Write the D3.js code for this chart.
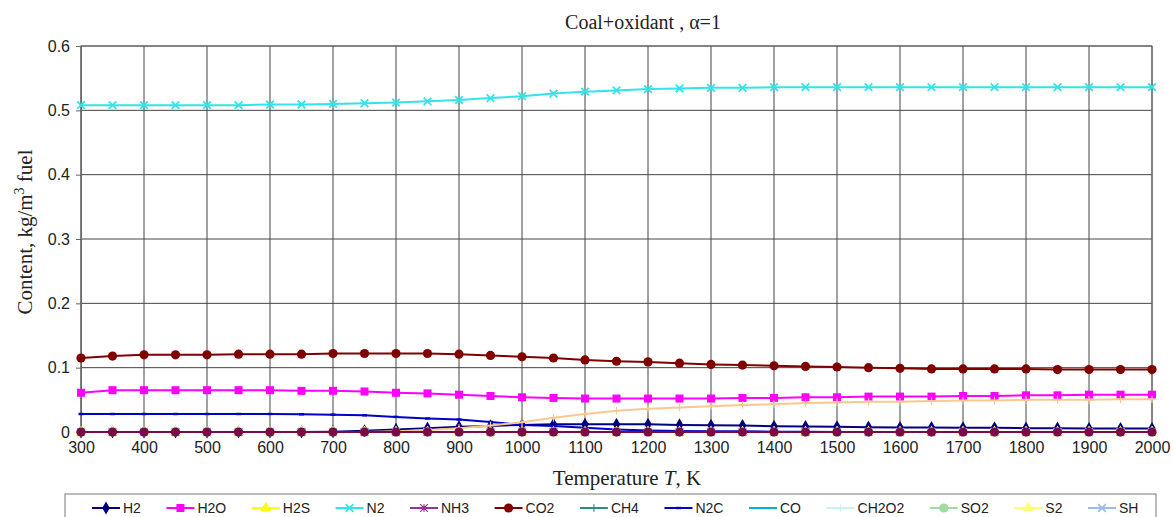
<!DOCTYPE html>
<html>
<head>
<meta charset="utf-8">
<script src="https://cdn.jsdelivr.net/npm/d3@7"></script>
<style>
  body { margin: 0; background: #fff; }
  svg { display: block; }
</style>
</head>
<body>
<div id="chart"></div>
<script>
// Temperature grid, K
const temps = [300, 350, 400, 450, 500, 550, 600, 650, 700, 750, 800, 850, 900, 950, 1000, 1050, 1100, 1150,
    1200, 1250, 1300, 1350, 1400, 1450, 1500, 1550, 1600, 1650, 1700, 1750, 1800, 1850, 1900, 1950, 2000];

// Content, kg/m3 fuel
const h2 = [0, 0, 0, 0, 0, 0, 0, 0, 0.0005, 0.002, 0.004, 0.006, 0.008, 0.0095, 0.011, 0.012,
    0.012, 0.012, 0.012, 0.011, 0.0105, 0.010, 0.009, 0.0085, 0.008, 0.0075, 0.007, 0.007, 0.0065, 0.0065, 0.006, 0.006, 0.0055, 0.0055, 0.0055];
const h2o = [0.061, 0.065, 0.065, 0.065, 0.065, 0.065, 0.065, 0.064, 0.064, 0.063, 0.061, 0.060, 0.058, 0.056, 0.054, 0.053,
    0.052, 0.052, 0.052, 0.052, 0.052, 0.053, 0.053, 0.054, 0.054, 0.055, 0.055, 0.055, 0.056, 0.056, 0.057, 0.057, 0.058, 0.058, 0.058];
const n2 = [0.508, 0.508, 0.508, 0.508, 0.508, 0.508, 0.509, 0.509, 0.510, 0.511, 0.512, 0.514, 0.516, 0.519, 0.522, 0.526,
    0.529, 0.531, 0.533, 0.534, 0.535, 0.535, 0.536, 0.536, 0.536, 0.536, 0.536, 0.536, 0.536, 0.536, 0.536, 0.536, 0.536, 0.536, 0.536];
const co2 = [0.115, 0.118, 0.120, 0.120, 0.120, 0.121, 0.121, 0.121, 0.122, 0.122, 0.122, 0.122, 0.121, 0.119, 0.117, 0.115,
    0.112, 0.110, 0.109, 0.107, 0.105, 0.104, 0.103, 0.102, 0.101, 0.100, 0.099, 0.098, 0.098, 0.098, 0.098, 0.097, 0.097, 0.097, 0.097];
const n2c = [0.028, 0.028, 0.028, 0.028, 0.028, 0.028, 0.028, 0.0275, 0.027, 0.026, 0.0235, 0.021, 0.0195, 0.0155, 0.011, 0.0095,
    0.0065, 0.004, 0.0025, 0.0015, 0.001, 0.001, 0.0005, 0.0005, 0, 0, 0, 0, 0, 0, 0, 0, 0, 0, 0];
const cos = [0, 0, 0, 0, 0, 0, 0, 0, 0, 0, 0.001, 0.003, 0.006, 0.010, 0.015, 0.022,
    0.028, 0.033, 0.036, 0.038, 0.040, 0.042, 0.043, 0.045, 0.046, 0.047, 0.047, 0.048, 0.049, 0.049, 0.050, 0.050, 0.050, 0.051, 0.051];
const zeros = [0, 0, 0, 0, 0, 0, 0, 0, 0, 0, 0, 0, 0, 0, 0, 0, 0, 0, 0, 0, 0, 0, 0, 0, 0, 0, 0, 0, 0, 0, 0, 0, 0, 0, 0];

const xTicks = [300, 400, 500, 600, 700, 800, 900, 1000, 1100, 1200, 1300, 1400, 1500, 1600, 1700, 1800, 1900, 2000];
const yTicks = [0, 0.1, 0.2, 0.3, 0.4, 0.5, 0.6];

// Series in drawing order; the last two belong to the legend row cut off below the picture
const series = [
    { name: "H2", values: h2, color: "#000080", marker: "diamond" },
    { name: "H2O", values: h2o, color: "#ff00ff", marker: "square" },
    { name: "H2S", values: zeros, color: "#ffff00", marker: "triangle" },
    { name: "N2", values: n2, color: "#33e3e8", marker: "x" },
    { name: "NH3", values: zeros, color: "#993399", marker: "star" },
    { name: "CO2", values: co2, color: "#800000", marker: "circle" },
    { name: "CH4", values: zeros, color: "#2e8b8b", marker: "plus" },
    { name: "N2C", values: n2c, color: "#0000c8", marker: "dash" },
    { name: "CO", values: zeros, color: "#00b0e0", marker: "none" },
    { name: "CH2O2", values: zeros, color: "#c8f2f4", marker: "plus" },
    { name: "SO2", values: zeros, color: "#a0dca0", marker: "circle" },
    { name: "S2", values: zeros, color: "#ffff70", marker: "triangle" },
    { name: "SH", values: zeros, color: "#9bbbe8", marker: "x" },
    { name: "COS", values: cos, color: "#f8c890", marker: "plus", hidden: true },
    { name: "C", values: zeros, color: "#7a0a48", marker: "circle", hidden: true }
];

const width = 1173, height = 517;
const margin = { left: 81, right: 21, top: 46, bottom: 85 };

const svg = d3.select("#chart").append("svg")
    .attr("width", width)
    .attr("height", height);

const x = d3.scaleLinear().domain([300, 2000]).range([margin.left, width - margin.right]);
const y = d3.scaleLinear().domain([0, 0.6]).range([height - margin.bottom, margin.top]);

const serif = "'Liberation Serif', 'Times New Roman', serif";
const sans = "'Liberation Sans', Arial, sans-serif";

// Grid
svg.append("g")
    .selectAll("line.vgrid")
    .data(xTicks)
    .enter().append("line")
    .attr("x1", d => x(d)).attr("x2", d => x(d))
    .attr("y1", y(0)).attr("y2", y(0.6))
    .attr("stroke", "#444").attr("stroke-width", 1);

svg.append("g")
    .selectAll("line.hgrid")
    .data(yTicks)
    .enter().append("line")
    .attr("x1", x(300)).attr("x2", x(2000))
    .attr("y1", d => y(d)).attr("y2", d => y(d))
    .attr("stroke", "#444").attr("stroke-width", 1);

// Plot border
svg.append("rect")
    .attr("x", x(300)).attr("y", y(0.6))
    .attr("width", x(2000) - x(300)).attr("height", y(0) - y(0.6))
    .attr("fill", "none").attr("stroke", "#666");

// Axes
const yAxis = svg.append("g")
    .attr("transform", `translate(${x(300)},0)`)
    .call(d3.axisLeft(y).tickValues(yTicks).tickFormat(d => d === 0 ? "0" : d3.format(".1f")(d)).tickSize(5).tickPadding(6));
const xAxis = svg.append("g")
    .attr("transform", `translate(0,${y(0)})`)
    .call(d3.axisBottom(x).tickValues(xTicks).tickFormat(d3.format("d")).tickSize(0).tickPadding(10));

[xAxis, yAxis].forEach(a => {
    a.select(".domain").attr("stroke", "#666");
    a.selectAll(".tick line").attr("stroke", "#666");
    a.selectAll("text").attr("font-family", sans).attr("font-size", 16).attr("fill", "#222");
});

// Markers
function drawMarker(g, type, color, px, py) {
    const s = 3.8;
    if (type === "diamond") {
        g.append("path").attr("d", d3.symbol(d3.symbolDiamond, 50)()).attr("transform", `translate(${px},${py})`).attr("fill", color);
    } else if (type === "square") {
        g.append("rect").attr("x", px - 4).attr("y", py - 4).attr("width", 8).attr("height", 8).attr("fill", color);
    } else if (type === "triangle") {
        g.append("path").attr("d", d3.symbol(d3.symbolTriangle, 50)()).attr("transform", `translate(${px},${py})`).attr("fill", color);
    } else if (type === "circle") {
        g.append("circle").attr("cx", px).attr("cy", py).attr("r", 4.6).attr("fill", color);
    } else if (type === "x") {
        g.append("path").attr("d", `M${px - s},${py - s}L${px + s},${py + s}M${px - s},${py + s}L${px + s},${py - s}`)
            .attr("stroke", color).attr("stroke-width", 1.8);
    } else if (type === "plus") {
        g.append("path").attr("d", `M${px - s},${py}L${px + s},${py}M${px},${py - s}L${px},${py + s}`)
            .attr("stroke", color).attr("stroke-width", 1.2);
    } else if (type === "star") {
        g.append("path").attr("d", `M${px - s},${py - s}L${px + s},${py + s}M${px - s},${py + s}L${px + s},${py - s}M${px},${py - s}L${px},${py + s}`)
            .attr("stroke", color).attr("stroke-width", 1.2);
    } else if (type === "dash") {
        g.append("rect").attr("x", px - 2.5).attr("y", py - 1.2).attr("width", 5).attr("height", 2.4).attr("fill", color);
    }
}

const line = d3.line()
    .x((d, i) => x(temps[i]))
    .y(d => y(d));

series.forEach(s => {
    const g = svg.append("g").attr("class", "series");
    g.append("path")
        .datum(s.values)
        .attr("d", line)
        .attr("fill", "none")
        .attr("stroke", s.color)
        .attr("stroke-width", 2);
    s.values.forEach((v, i) => drawMarker(g, s.marker, s.color, x(temps[i]), y(v)));
});

// Title and axis labels
svg.append("text")
    .attr("x", 643).attr("y", 29)
    .attr("text-anchor", "middle")
    .attr("font-family", serif).attr("font-size", 20).attr("fill", "#222")
    .text("Coal+oxidant , α=1");

const xl = svg.append("text")
    .attr("x", 627).attr("y", 485)
    .attr("text-anchor", "middle")
    .attr("font-family", serif).attr("font-size", 21).attr("fill", "#222");
xl.append("tspan").text("Temperature ");
xl.append("tspan").attr("font-style", "italic").text("T");
xl.append("tspan").text(", K");

const yl = svg.append("text")
    .attr("transform", "translate(32,232) rotate(-90)")
    .attr("text-anchor", "middle")
    .attr("font-family", serif).attr("font-size", 21).attr("fill", "#222");
yl.append("tspan").text("Content, kg/m");
yl.append("tspan").attr("font-size", 14).attr("dy", -8).text("3");
yl.append("tspan").attr("dy", 8).text(" fuel");

// Legend (only its first row is inside the picture)
const legend = svg.append("g");
legend.append("rect")
    .attr("x", 65).attr("y", 494)
    .attr("width", 1091).attr("height", 60)
    .attr("fill", "#fff").attr("stroke", "#777");

const row1 = series.filter(s => !s.hidden);
const lineLen = 28, textGap = 3, firstX = 92, lastX = 1088;

function legendItem(s, lx, ly) {
    const g = legend.append("g");
    g.append("line").attr("x1", lx).attr("x2", lx + lineLen).attr("y1", ly).attr("y2", ly)
        .attr("stroke", s.color).attr("stroke-width", 2);
    drawMarker(g, s.marker, s.color, lx + lineLen / 2, ly);
    return g.append("text").attr("x", lx + lineLen + textGap).attr("y", ly + 5)
        .attr("font-family", sans).attr("font-size", 14).attr("fill", "#222")
        .text(s.name);
}

// measure text widths to spread the row across the box
const probe = svg.append("g");
const widths = row1.map(s => {
    const t = probe.append("text").attr("font-family", sans).attr("font-size", 14).text(s.name);
    return t.node().getComputedTextLength();
});
probe.remove();
const used = d3.sum(widths.slice(0, -1)) + (row1.length - 1) * (lineLen + textGap);
const gap = (lastX - firstX - used) / (row1.length - 1);

let lx = firstX;
row1.forEach((s, i) => {
    legendItem(s, lx, 508);
    lx += lineLen + textGap + widths[i] + gap;
});
</script>
</body>
</html>
